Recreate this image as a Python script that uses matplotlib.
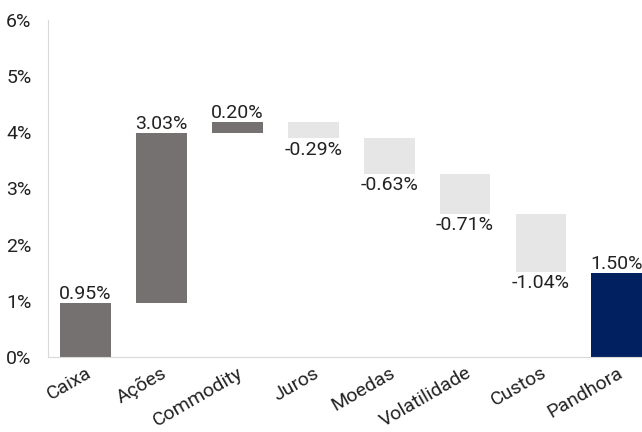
import numpy as np
import matplotlib.pyplot as plt

plt.rcParams['font.family'] = ['Roboto', 'DejaVu Sans']

categories = ['Caixa', 'Ações', 'Commodity', 'Juros', 'Moedas', 'Volatilidade', 'Custos', 'Pandhora']
values = [0.95, 3.03, 0.20, -0.29, -0.63, -0.71, -1.04, 1.50]
labels = ['0.95%', '3.03%', '0.20%', '-0.29%', '-0.63%', '-0.71%', '-1.04%', '1.50%']

pos_color = '#767171'
neg_color = '#E7E6E6'
total_color = '#002060'

fig = plt.figure(figsize=(6.42, 4.32), dpi=100)
ax = fig.add_axes([0.075, 0.174, 0.925, 0.78])

x = np.arange(len(categories))
bottoms = []
heights = []
colors = []
run = 0.0
for i, v in enumerate(values):
    if i == len(values) - 1:
        bottoms.append(0)
        heights.append(v)
        colors.append(total_color)
    else:
        bottoms.append(run if v >= 0 else run + v)
        heights.append(abs(v))
        colors.append(pos_color if v >= 0 else neg_color)
        run += v

ax.bar(x, heights, bottom=bottoms, width=0.67, color=colors)

for i, v in enumerate(values):
    if v >= 0:
        ax.text(x[i], bottoms[i] + heights[i] + 0.0, labels[i], ha='center', va='bottom',
                fontsize=14, color='#222222')
    else:
        ax.text(x[i], bottoms[i] - 0.04, labels[i], ha='center', va='top',
                fontsize=14, color='#222222')

ax.set_ylim(0, 6)
ax.set_xlim(-0.49, 7.33)
ax.set_yticks(range(0, 7))
ax.set_yticklabels([f'{t}%' for t in range(0, 7)])
ax.set_xticks(x)
ax.set_xticklabels(categories, rotation=30, ha='right', rotation_mode='anchor')
ax.tick_params(axis='both', length=0, labelsize=14, colors='#222222')
ax.tick_params(axis='y', pad=12)
ax.tick_params(axis='x', pad=5)
for s in ['top', 'right']:
    ax.spines[s].set_visible(False)
for s in ['left', 'bottom']:
    ax.spines[s].set_color('#D9D9D9')

fig.savefig('out.png', dpi=100)
